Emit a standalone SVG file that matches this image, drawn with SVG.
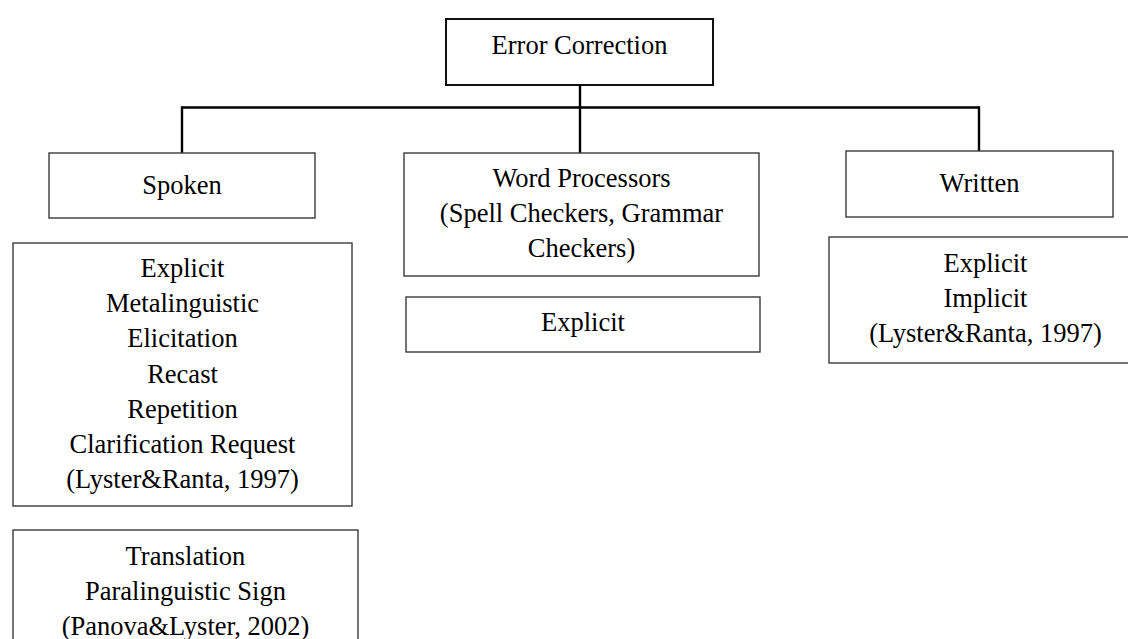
<svg xmlns="http://www.w3.org/2000/svg" width="1128" height="639" viewBox="0 0 1128 639">
  <style>
    .box { fill: #ffffff; stroke: #3a3a3a; stroke-width: 1.4; }
    .root { fill: #ffffff; stroke: #111111; stroke-width: 2; }
    .conn { fill: none; stroke: #000000; stroke-width: 2.4; }
    text { font-family: "Liberation Serif", "Times New Roman", serif; font-size: 26.5px; fill: #000000; text-anchor: middle; }
  </style>
  <rect x="0" y="0" width="1128" height="639" fill="#ffffff"/>

  <!-- tree connectors -->
  <g id="connectors">
    <line class="conn" x1="580" y1="85" x2="580" y2="153"/>
    <line class="conn" x1="182" y1="107.5" x2="979" y2="107.5"/>
    <line class="conn" x1="182" y1="106.3" x2="182" y2="153"/>
    <line class="conn" x1="979" y1="106.3" x2="979" y2="151"/>
  </g>

  <g id="error-correction">
    <rect class="root" x="446" y="19" width="267" height="66"/>
    <text x="579.5" y="54">Error Correction</text>
  </g>

  <g id="spoken">
    <rect class="box" x="49" y="153" width="266" height="65"/>
    <text x="182" y="194">Spoken</text>
  </g>

  <g id="spoken-types">
    <rect class="box" x="13" y="243" width="339" height="263"/>
    <text x="182.5" y="276.7">Explicit</text>
    <text x="182.5" y="312">Metalinguistic</text>
    <text x="182.5" y="347.3">Elicitation</text>
    <text x="182.5" y="382.7">Recast</text>
    <text x="182.5" y="418.2">Repetition</text>
    <text x="182.5" y="452.8">Clarification Request</text>
    <text x="182.5" y="488.3">(Lyster&amp;Ranta, 1997)</text>
  </g>

  <g id="spoken-extra">
    <rect class="box" x="13" y="530" width="345" height="130"/>
    <text x="185.5" y="565">Translation</text>
    <text x="185.5" y="600">Paralinguistic Sign</text>
    <text x="185.5" y="635">(Panova&amp;Lyster, 2002)</text>
  </g>

  <g id="word-processors">
    <rect class="box" x="404" y="153" width="355" height="123"/>
    <text x="581.5" y="187.3">Word Processors</text>
    <text x="581.5" y="221.7">(Spell Checkers, Grammar</text>
    <text x="581.5" y="257">Checkers)</text>
  </g>

  <g id="word-processors-types">
    <rect class="box" x="406" y="297" width="354" height="55"/>
    <text x="583" y="330.7">Explicit</text>
  </g>

  <g id="written">
    <rect class="box" x="846" y="151" width="267" height="66"/>
    <text x="979.5" y="191.7">Written</text>
  </g>

  <g id="written-types">
    <rect class="box" x="829" y="237" width="313" height="126"/>
    <text x="985.5" y="271.7">Explicit</text>
    <text x="985.5" y="306.7">Implicit</text>
    <text x="985.5" y="342.3">(Lyster&amp;Ranta, 1997)</text>
  </g>
</svg>
